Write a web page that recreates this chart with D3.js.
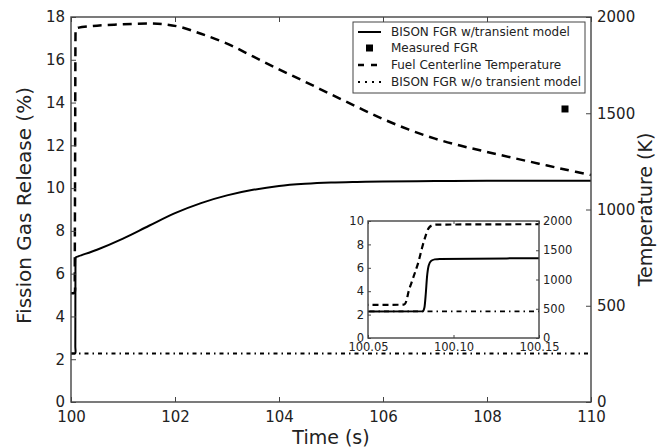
<!DOCTYPE html>
<meta charset="utf-8">

<!-- Load d3.js -->
<script src="https://d3js.org/d3.v7.min.js"></script>

<style>
  body { margin: 0; background: #fff; }
  text { font-family: "DejaVu Sans", sans-serif; fill: #222; }
</style>

<!-- Create a div where the graph will take place -->
<div id="my_dataviz"></div>

<script>

// ---- data ----
const tempTime = [100, 100.05, 100.071, 100.0725, 100.0737, 100.0756, 100.0776, 100.0795, 100.0815,
  100.0835, 100.0853, 100.0875, 100.09, 100.15, 100.5, 101, 101.5, 101.8, 102.1, 102.5, 103, 103.5,
  104, 104.5, 105, 105.5, 106, 106.5, 107, 107.5, 108, 108.5, 109, 109.5, 110];
const tempK = [565, 565, 570, 640, 790, 960, 1130, 1300, 1530,
  1730, 1870, 1925, 1938, 1945, 1955, 1962, 1966, 1962, 1948, 1913, 1862, 1795,
  1728, 1664, 1598, 1533, 1470, 1415, 1368, 1331, 1299, 1268, 1238, 1208, 1179];

const fgrTime = [100, 100.05, 100.082, 100.083, 100.0838, 100.0845, 100.0855, 100.087, 100.089, 100.092,
  100.15, 100.5, 101, 101.5, 102, 102.5, 103, 103.5, 104, 104.5, 105, 105.5, 106, 107, 108, 110];
const fgrPct = [2.27, 2.27, 2.28, 2.6, 3.8, 5.2, 6.2, 6.6, 6.72, 6.76,
  6.82, 7.12, 7.64, 8.24, 8.83, 9.3, 9.66, 9.92, 10.1, 10.2, 10.26, 10.29, 10.31, 10.33, 10.34, 10.35];

const noTransTime = [100, 110];
const noTransPct = [2.27, 2.27];

const measuredTime = [109.5];
const measuredPct = [13.7];

const timeTicks = [100, 102, 104, 106, 108, 110];
const fgrTicks = [0, 2, 4, 6, 8, 10, 12, 14, 16, 18];
const tempTicks = [0, 500, 1000, 1500, 2000];
const insetTimeTicks = [100.05, 100.10, 100.15];
const insetFgrTicks = [0, 2, 4, 6, 8, 10];

const legendLabels = ["BISON FGR w/transient model", "Measured FGR",
  "Fuel Centerline Temperature", "BISON FGR w/o transient model"];

// ---- layout ----
const W = 658, H = 448;
const plot = {left: 71, right: 591, top: 17, bottom: 402};
const inset = {left: 368, right: 539, top: 221, bottom: 338};

const svg = d3.select("#my_dataviz")
  .append("svg")
    .attr("width", W)
    .attr("height", H);

const x = d3.scaleLinear().domain([100, 110]).range([plot.left, plot.right]);
const yL = d3.scaleLinear().domain([0, 18]).range([plot.bottom, plot.top]);
const yR = d3.scaleLinear().domain([0, 2000]).range([plot.bottom, plot.top]);

const xi = d3.scaleLinear().domain([100.05, 100.15]).range([inset.left, inset.right]);
const yiL = d3.scaleLinear().domain([0, 10]).range([inset.bottom, inset.top]);
const yiR = d3.scaleLinear().domain([0, 2000]).range([inset.bottom, inset.top]);

const axisColor = "#444";

function styleAxis(g, fs) {
  g.select(".domain").remove();
  g.selectAll(".tick line").attr("stroke", axisColor).attr("stroke-width", 1);
  g.selectAll(".tick text").style("font-size", fs + "px").attr("fill", "#222");
}

// draw a frame with inward ticks on all sides
function drawAxes(box, xs, ysL, ysR, xt, ytL, ytR, opt) {
  const tl = opt.tick;
  svg.append("g")
      .attr("transform", `translate(0,${box.bottom})`)
      .call(d3.axisBottom(xs).tickValues(xt).tickSize(-tl).tickPadding(opt.padX).tickFormat(opt.fmtX))
      .call(g => styleAxis(g, opt.fs));
  svg.append("g")
      .attr("transform", `translate(0,${box.top})`)
      .call(d3.axisTop(xs).tickValues(xt).tickSize(-tl).tickFormat(""))
      .call(g => styleAxis(g, opt.fs));
  svg.append("g")
      .attr("transform", `translate(${box.left},0)`)
      .call(d3.axisLeft(ysL).tickValues(ytL).tickSize(-tl).tickPadding(opt.padY).tickFormat(d3.format("d")))
      .call(g => styleAxis(g, opt.fs));
  svg.append("g")
      .attr("transform", `translate(${box.right},0)`)
      .call(d3.axisRight(ysR).tickValues(ytR).tickSize(-tl).tickPadding(opt.padY).tickFormat(d3.format("d")))
      .call(g => styleAxis(g, opt.fs));
  svg.append("rect")
      .attr("x", box.left).attr("y", box.top)
      .attr("width", box.right - box.left).attr("height", box.bottom - box.top)
      .attr("fill", "none").attr("stroke", axisColor).attr("stroke-width", 1.4);
}

function series(xs, ys, ts, vs, curve) {
  return d3.line()
    .curve(curve)
    .x((d, i) => xs(ts[i]))
    .y((d, i) => ys(vs[i]))(ts);
}
const smooth = d3.curveCatmullRom.alpha(0.5);
const mono = d3.curveMonotoneX;

// ---- main chart lines ----
svg.append("path")
    .attr("d", series(x, yL, noTransTime, noTransPct, smooth))
    .attr("fill", "none").attr("stroke", "#000").attr("stroke-width", 2)
    .attr("stroke-dasharray", "4,4,1.5,4");

svg.append("path")
    .attr("d", series(x, yR, tempTime, tempK, smooth))
    .attr("fill", "none").attr("stroke", "#000").attr("stroke-width", 2.5)
    .attr("stroke-dasharray", "9,6");

svg.append("path")
    .attr("d", series(x, yL, fgrTime, fgrPct, smooth))
    .attr("fill", "none").attr("stroke", "#000").attr("stroke-width", 2);

svg.selectAll(".measured")
  .data(measuredTime)
  .join("rect")
    .attr("x", (d, i) => x(d) - 3.5)
    .attr("y", (d, i) => yL(measuredPct[i]) - 3.5)
    .attr("width", 7).attr("height", 7)
    .attr("fill", "#000");

drawAxes(plot, x, yL, yR, timeTicks, fgrTicks, tempTicks,
  {tick: 5, fs: 15, padX: 9, padY: 6, fmtX: d3.format("d")});

// axis titles
svg.append("text")
    .attr("x", (plot.left + plot.right) / 2).attr("y", 444)
    .attr("text-anchor", "middle").style("font-size", "19px")
    .text("Time (s)");
svg.append("text")
    .attr("transform", `translate(31,${(plot.top + plot.bottom) / 2 - 4}) rotate(-90)`)
    .attr("text-anchor", "middle").style("font-size", "20px")
    .text("Fission Gas Release (%)");
svg.append("text")
    .attr("transform", `translate(652,${(plot.top + plot.bottom) / 2}) rotate(-90)`)
    .attr("text-anchor", "middle").style("font-size", "19px")
    .text("Temperature (K)");

// ---- legend ----
const lg = svg.append("g");
lg.append("rect")
    .attr("x", 353).attr("y", 22).attr("width", 232).attr("height", 71)
    .attr("fill", "#fff").attr("stroke", axisColor).attr("stroke-width", 1);
const rowY = [32, 48, 65, 82];
lg.append("line").attr("x1", 358).attr("x2", 381).attr("y1", rowY[0]).attr("y2", rowY[0])
    .attr("stroke", "#000").attr("stroke-width", 2);
lg.append("rect").attr("x", 366).attr("y", rowY[1] - 3.5).attr("width", 7).attr("height", 7)
    .attr("fill", "#000");
lg.append("line").attr("x1", 358).attr("x2", 381).attr("y1", rowY[2]).attr("y2", rowY[2])
    .attr("stroke", "#000").attr("stroke-width", 2.5).attr("stroke-dasharray", "6,7");
lg.append("line").attr("x1", 358).attr("x2", 381).attr("y1", rowY[3]).attr("y2", rowY[3])
    .attr("stroke", "#000").attr("stroke-width", 2).attr("stroke-dasharray", "2,5");
lg.selectAll(".lab")
  .data(legendLabels)
  .join("text")
    .attr("x", 391).attr("y", (d, i) => rowY[i])
    .attr("dy", "0.35em").style("font-size", "12px")
    .text(d => d);

// ---- inset ----
svg.append("rect")
    .attr("x", inset.left).attr("y", inset.top)
    .attr("width", inset.right - inset.left).attr("height", inset.bottom - inset.top)
    .attr("fill", "#fff");
svg.append("clipPath").attr("id", "insetClip")
  .append("rect")
    .attr("x", inset.left).attr("y", inset.top)
    .attr("width", inset.right - inset.left).attr("height", inset.bottom - inset.top);
const ig = svg.append("g").attr("clip-path", "url(#insetClip)");

ig.append("path")
    .attr("d", series(xi, yiL, noTransTime, noTransPct, mono))
    .attr("fill", "none").attr("stroke", "#000").attr("stroke-width", 1.8)
    .attr("stroke-dasharray", "5,4,1.5,4");
ig.append("path")
    .attr("d", series(xi, yiR, tempTime, tempK, mono))
    .attr("fill", "none").attr("stroke", "#000").attr("stroke-width", 2.2)
    .attr("stroke-dasharray", "6,4");
ig.append("path")
    .attr("d", series(xi, yiL, fgrTime, fgrPct, mono))
    .attr("fill", "none").attr("stroke", "#000").attr("stroke-width", 2);

drawAxes(inset, xi, yiL, yiR, insetTimeTicks, insetFgrTicks, tempTicks,
  {tick: 3, fs: 11.5, padX: 5, padY: 4, fmtX: d3.format(".2f")});

</script>
